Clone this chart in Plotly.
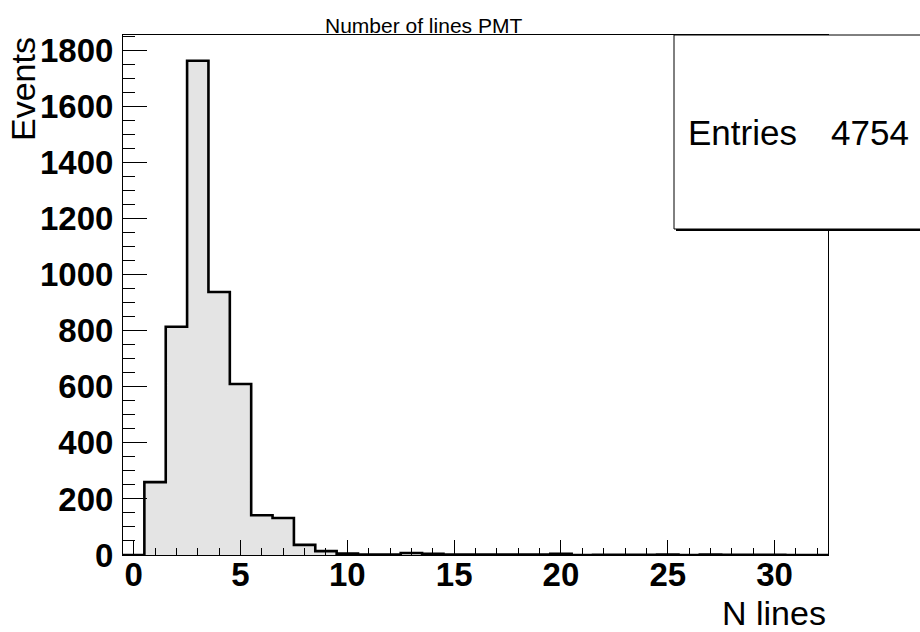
import plotly.graph_objects as go

# Histogram of the number of lines per PMT event (bins of width 1, centred on integers)
bin_centers = list(range(0, 33))
counts = [0, 260, 814, 1763, 938, 610, 142, 132, 36, 14,
          5, 2, 2, 7, 4, 2, 2, 2, 2, 2,
          4, 0, 1, 1, 1, 2, 0, 2, 1, 1,
          1, 0, 0]
entries = 4754

title_text = "Number of lines PMT"
x_title = "N lines"
y_title = "Events"

# bin edges for the step outline
edges = [c - 0.5 for c in bin_centers] + [bin_centers[-1] + 0.5]
step_y = counts + [counts[-1]]

FONT = "Liberation Sans, Arial, Helvetica, sans-serif"

fig = go.Figure()
fig.add_trace(go.Scatter(
    x=edges, y=step_y,
    mode="lines",
    line=dict(shape="hv", color="black", width=2.6),
    fill="tozeroy",
    fillcolor="#e4e4e4",
    hoverinfo="skip",
    showlegend=False,
))

# frame geometry in pixels
W, H = 920, 632
L, R, T, B = 123, 92, 35, 77
pw, ph = W - L - R, H - T - B

def px_x(x):
    return (x - L) / pw

def px_y(y):
    return (H - B - y) / ph

fig.update_layout(
    width=W, height=H,
    margin=dict(l=L, r=R, t=T, b=B, pad=0),
    paper_bgcolor="white",
    plot_bgcolor="white",
    font=dict(family=FONT, color="black"),
    showlegend=False,
    xaxis=dict(
        range=[edges[0], edges[-1]],
        showgrid=False, zeroline=False,
        showline=True, linecolor="black", linewidth=1, mirror=True,
        ticks="inside", ticklen=15, tickwidth=1, tickcolor="black",
        tick0=0, dtick=5,
        minor=dict(ticks="inside", ticklen=7, tickwidth=1, tickcolor="black", dtick=1, showgrid=False),
        tickfont=dict(family=FONT, size=33, weight="bold", color="black"),
        ticklabelstandoff=-10,
    ),
    yaxis=dict(
        range=[0, 1855],
        showgrid=False, zeroline=False,
        showline=True, linecolor="black", linewidth=1, mirror=True,
        ticks="inside", ticklen=24, tickwidth=1, tickcolor="black",
        tick0=0, dtick=200,
        minor=dict(ticks="inside", ticklen=12, tickwidth=1, tickcolor="black", dtick=50, showgrid=False),
        tickfont=dict(family=FONT, size=33, weight="bold", color="black"),
        ticklabelstandoff=2,
    ),
)

# histogram title
fig.add_annotation(
    text=title_text, xref="paper", yref="paper",
    x=px_x(423), y=px_y(39), xanchor="center", yanchor="bottom",
    showarrow=False, font=dict(family=FONT, size=21, color="black"),
)

# axis titles (ROOT style: right / top aligned)
fig.add_annotation(
    text=x_title, xref="paper", yref="paper",
    x=1.0, y=px_y(634), xanchor="right", yanchor="bottom",
    showarrow=False, font=dict(family=FONT, size=34, color="black"),
)
fig.add_annotation(
    text=y_title, xref="paper", yref="paper",
    x=px_x(2), y=1.0, xanchor="left", yanchor="top", textangle=-90,
    showarrow=False, font=dict(family=FONT, size=34, color="black"),
)

# statistics box with shadow
fig.add_shape(type="rect", xref="paper", yref="paper",
              x0=px_x(676), x1=px_x(925), y0=px_y(231), y1=px_y(37),
              line=dict(color="black", width=0), fillcolor="black", layer="above")
fig.add_shape(type="rect", xref="paper", yref="paper",
              x0=px_x(674), x1=px_x(925), y0=px_y(229), y1=px_y(35),
              line=dict(color="black", width=1), fillcolor="white", layer="above")
fig.add_annotation(
    text="Entries", xref="paper", yref="paper",
    x=px_x(686), y=px_y(132), xanchor="left", yanchor="middle",
    showarrow=False, font=dict(family=FONT, size=35, color="black"),
)
fig.add_annotation(
    text=str(entries), xref="paper", yref="paper",
    x=px_x(911), y=px_y(132), xanchor="right", yanchor="middle",
    showarrow=False, font=dict(family=FONT, size=35, color="black"),
)

fig.write_html("out.html")
